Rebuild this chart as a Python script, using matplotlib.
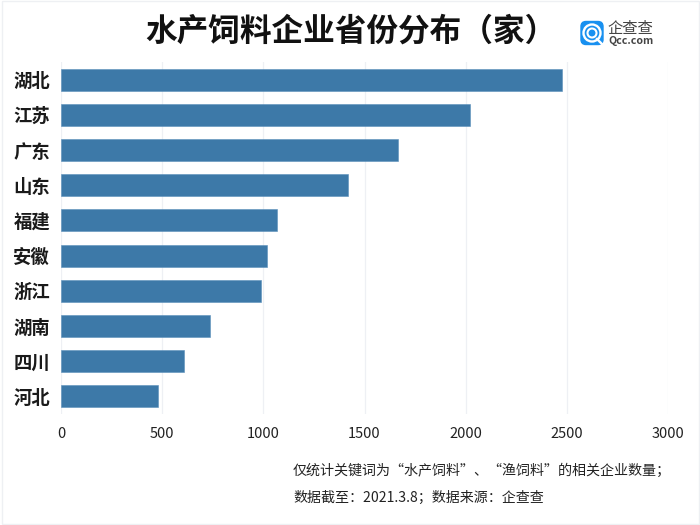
import matplotlib
matplotlib.use('Agg')
import matplotlib.pyplot as plt
from matplotlib.patches import FancyBboxPatch, Circle, Rectangle

plt.rcParams['font.family'] = ['Noto Sans CJK SC', 'DejaVu Sans']

provinces = ['湖北', '江苏', '广东', '山东', '福建', '安徽', '浙江', '湖南', '四川', '河北']
counts = [2476, 2020, 1665, 1420, 1066, 1018, 988, 735, 606, 476]
ticks = [0, 500, 1000, 1500, 2000, 2500, 3000]
title = '水产饲料企业省份分布（家）'
note1 = '仅统计关键词为“水产饲料”、“渔饲料”的相关企业数量；'
note2 = '数据截至：2021.3.8；数据来源：企查查'

W, H = 700, 525
fig = plt.figure(figsize=(7, 5.25), dpi=100, facecolor='white')
ax = fig.add_axes([61.3/W, 1-414/H, 606.4/W, 352/H])
ax.barh(range(len(counts)), counts, height=0.62, color='#3d79a8', edgecolor='#5b90bb', linewidth=0.4, zorder=3)
ax.set_xlim(0, 3000)
ax.set_ylim(len(counts)-0.5, -0.5)
ax.set_yticks(range(len(counts)))
ax.set_yticklabels(provinces, fontsize=13.2, fontweight='bold', color='#1a1a1a')
ax.set_xticks(ticks)
ax.set_xticklabels([str(t) for t in ticks], fontsize=10.5, color='#222222')
ax.tick_params(length=0, axis='y', pad=8)
ax.tick_params(length=0, axis='x', pad=9.5)
ax.grid(axis='x', color='#eef0f4', linewidth=0.9, zorder=0)
for s in ax.spines.values():
    s.set_visible(False)

fig.text(351/W, 1-32/H, title, fontsize=22.8, fontweight='bold', ha='center', va='center', color='#111111')
fig.text(293/W, 1-471/H, note1, fontsize=10.1, fontweight='medium', ha='left', va='center', color='#222222')
fig.text(293/W, 1-497.5/H, note2, fontsize=10.1, fontweight='medium', ha='left', va='center', color='#222222')

# page frame
fig.add_artist(Rectangle((1.5/W, 0.8/H), 697/W, 523/H, transform=fig.transFigure, fill=False,
                         edgecolor='#eef0f3', linewidth=1))

# logo
lg = fig.add_axes([0, 0, 1, 1], facecolor='none')
lg.set_xlim(0, W); lg.set_ylim(H, 0); lg.axis('off')
lg.add_patch(FancyBboxPatch((581, 21.5), 22, 23, boxstyle='round,pad=0,rounding_size=5', facecolor='#1890f0', edgecolor='#1890f0', linewidth=1))
lg.add_patch(Circle((592, 33), 8.5, fill=False, edgecolor='white', linewidth=1.7))
lg.add_patch(Circle((592, 33), 4.5, fill=False, edgecolor='white', linewidth=1.5))
lg.plot([597, 602], [39, 44], color='white', linewidth=1.7)
lg.text(607, 28, '企查查', fontsize=11, fontweight='medium', color='#444444', ha='left', va='center')
lg.text(608, 41, 'Qcc.com', fontsize=7.6, color='#444444', ha='left', va='center', fontweight='bold')

fig.savefig('out.png', dpi=100)
